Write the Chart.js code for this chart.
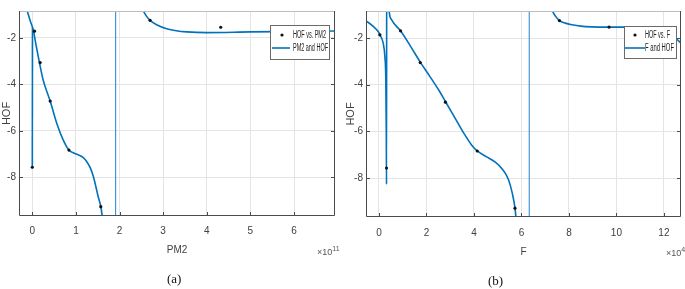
<!DOCTYPE html>
<html>
<head>
<meta charset="utf-8">
<script src="https://cdn.jsdelivr.net/npm/chart.js@4.4.1/dist/chart.umd.min.js"></script>
<style>
    body { margin: 0; width: 685px; height: 289px; background: #fff; position: relative; overflow: hidden; }
    canvas { position: absolute; top: 0; }
    .cap { position: absolute; font-family: 'Liberation Serif', 'DejaVu Serif', serif; font-size: 13px; color: #111; }
    .mult { position: absolute; font-family: 'Liberation Sans Narrow', 'Liberation Sans', sans-serif; font-size: 9px; color: #555; white-space: nowrap; }
    .mult sup { font-size: 7px; }
</style>
</head>
<body>
<canvas id="chart-a" width="340" height="289" style="left:0"></canvas>
<canvas id="chart-b" width="345" height="289" style="left:340px"></canvas>
<div class="cap" style="left:167px; top:271px">(a)</div>
<div class="cap" style="left:488px; top:273px">(b)</div>
<div class="mult" style="left:317px; top:245px">×10<sup>11</sup></div>
<div class="mult" style="left:666px; top:246px">×10<sup>4</sup></div>
<script>
// 刻度
const hofTicks = [-8, -6, -4, -2];
const pm2Ticks = [0, 1, 2, 3, 4, 5, 6];
const fTicks = [0, 2, 4, 6, 8, 10, 12];

// (a) PM2 观测点 (x 单位 1e11)
const pm2ObsX = [0, 0.05, 0.18, 0.41, 0.84, 1.57, 2.70, 4.32];
const pm2ObsY = [-7.57, -1.71, -3.06, -4.72, -6.83, -9.27, -1.24, -1.54];

// (a) 拟合曲线 左支
const pm2FitLeftX = [-0.17, -0.115, -0.05, 0.023, 0.09, 0.16, 0.25, 0.41, 0.56, 0.71, 0.84, 0.95, 1.06, 1.17, 1.25, 1.33, 1.40, 1.51, 1.57, 1.62];
const pm2FitLeftY = [-0.55, -0.85, -1.25, -1.67, -2.35, -3.03, -3.82, -4.72, -5.67, -6.40, -6.83, -6.96, -7.04, -7.16, -7.33, -7.60, -7.97, -8.83, -9.26, -9.90];
// (a) x=0 处的跳变
const pm2JumpX = [0, 0.004];
const pm2JumpY = [-7.57, -1.55];
// (a) 拟合曲线 右支
const pm2FitRightX = [2.50, 2.55, 2.62, 2.70, 2.85, 3.08, 3.30, 3.54, 4.00, 5.00, 6.00, 7.00];
const pm2FitRightY = [-0.60, -0.85, -1.07, -1.24, -1.43, -1.60, -1.69, -1.74, -1.77, -1.74, -1.72, -1.70];
const pm2Asym = 1.91;

// (b) F 观测点 (x 单位 1e4)
const fObsX = [0.04, 0.32, 0.91, 1.74, 2.80, 4.14, 5.73, 7.60, 9.69];
const fObsY = [-1.86, -7.57, -1.69, -3.05, -4.75, -6.84, -9.29, -1.25, -1.53];

// (b) 拟合曲线 左支
const fFitLeftX = [-0.60, -0.51, -0.24, -0.03, 0.04, 0.18, 0.25, 0.29, 0.31, 0.32, 0.33, 0.41, 0.43, 0.53, 0.91, 1.30, 1.74, 2.13, 2.55, 2.80, 3.20, 3.60, 3.90, 4.14, 4.50, 4.90, 5.20, 5.45, 5.62, 5.73, 5.79];
const fFitLeftY = [-1.25, -1.29, -1.50, -1.72, -1.86, -2.22, -2.79, -3.80, -6.00, -8.27, 3.00, -0.30, -0.82, -1.21, -1.69, -2.30, -3.03, -3.62, -4.28, -4.72, -5.42, -6.12, -6.58, -6.84, -7.07, -7.32, -7.62, -8.05, -8.67, -9.29, -9.90];
// (b) 拟合曲线 右支
const fFitRightX = [7.24, 7.30, 7.45, 7.60, 7.85, 8.13, 8.50, 8.97, 9.69, 10.50, 11.30, 11.90, 12.30, 12.72, 12.90];
const fFitRightY = [-0.60, -0.82, -1.08, -1.25, -1.36, -1.43, -1.49, -1.52, -1.53, -1.53, -1.56, -1.65, -1.85, -2.22, -2.45];
const fAsym = 6.33;

const BLUE = '#0072BD';
const tickFont = { family: "'Liberation Sans Narrow', 'Liberation Sans', sans-serif", size: 10 };
const titleFont = { family: "'Liberation Sans', Arial, sans-serif", size: 10 };

function toPoints(xs, ys) {
    return xs.map((x, i) => ({ x: x, y: ys[i] }));
}

// MATLAB 风格的边框、内向刻度和图例
const boxPlugin = {
    id: 'matlabBox',
    afterDraw(chart) {
        const { ctx, chartArea: a, scales } = chart;
        ctx.save();
        ctx.lineWidth = 1;
        ctx.strokeStyle = '#bdbdbd';
        ctx.beginPath();
        ctx.moveTo(a.left, a.top + 0.5);
        ctx.lineTo(a.right, a.top + 0.5);
        ctx.stroke();
        ctx.strokeStyle = '#4a4a4a';
        ctx.beginPath();
        ctx.moveTo(a.left + 0.5, a.top);
        ctx.lineTo(a.left + 0.5, a.bottom - 0.5);
        ctx.lineTo(a.right - 0.5, a.bottom - 0.5);
        ctx.lineTo(a.right - 0.5, a.top);
        scales.x.ticks.forEach(t => {
            const px = Math.round(scales.x.getPixelForValue(t.value)) + 0.5;
            ctx.moveTo(px, a.bottom);
            ctx.lineTo(px, a.bottom - 4);
        });
        scales.y.ticks.forEach(t => {
            const py = Math.round(scales.y.getPixelForValue(t.value)) + 0.5;
            ctx.moveTo(a.left, py);
            ctx.lineTo(a.left + 4, py);
            ctx.moveTo(a.right, py);
            ctx.lineTo(a.right - 4, py);
        });
        ctx.stroke();

        // 图例
        const lg = chart.options.plugins.matlabBox;
        const bx = a.right - lg.rightOffset - lg.width;
        const by = a.top + lg.topOffset;
        ctx.fillStyle = '#fff';
        ctx.fillRect(bx, by, lg.width, lg.height);
        ctx.strokeStyle = '#6a6a6a';
        ctx.strokeRect(bx + 0.5, by + 0.5, lg.width, lg.height);
        ctx.fillStyle = '#111';
        ctx.beginPath();
        ctx.arc(bx + lg.dotX, by + lg.row1, 1.6, 0, Math.PI * 2);
        ctx.fill();
        ctx.strokeStyle = BLUE;
        ctx.lineWidth = 1.6;
        ctx.beginPath();
        ctx.moveTo(bx + lg.lineX0, by + lg.row2);
        ctx.lineTo(bx + lg.lineX1, by + lg.row2);
        ctx.stroke();
        ctx.font = "10px 'Liberation Sans Narrow', 'Liberation Sans', sans-serif";
        ctx.textBaseline = 'middle';
        ctx.fillStyle = '#222';
        ctx.fillText(lg.labels[0], bx + lg.textX, by + lg.row1, lg.textW[0]);
        ctx.fillText(lg.labels[1], bx + lg.textX, by + lg.row2, lg.textW[1]);
        ctx.restore();
    }
};

function createPanel(canvasId, cfg) {
    const canvas = document.getElementById(canvasId);
    const datasets = [
        {
            label: cfg.legend[0],
            data: toPoints(cfg.obsX, cfg.obsY),
            showLine: false,
            pointRadius: 1.6,
            pointBackgroundColor: '#111',
            pointBorderWidth: 0
        }
    ];
    cfg.fits.forEach(f => {
        datasets.push({
            label: cfg.legend[1],
            data: toPoints(f[0], f[1]),
            borderColor: BLUE,
            borderWidth: 1.6,
            pointRadius: 0,
            cubicInterpolationMode: 'monotone'
        });
    });
    // 垂直渐近线
    datasets.push({
        data: [{ x: cfg.asym, y: -20 }, { x: cfg.asym, y: 20 }],
        borderColor: '#3a8cd0',
        borderWidth: 1.1,
        pointRadius: 0
    });

    return new Chart(canvas, {
        type: 'line',
        data: { datasets: datasets },
        plugins: [boxPlugin],
        options: {
            responsive: false,
            animation: false,
            devicePixelRatio: 1,
            layout: { padding: { top: 11, right: cfg.padRight, left: 0, bottom: 0 } },
            plugins: {
                legend: { display: false },
                tooltip: { enabled: false },
                matlabBox: cfg.legendBox
            },
            scales: {
                x: {
                    type: 'linear',
                    min: cfg.xMin,
                    max: cfg.xMax,
                    afterBuildTicks: s => { s.ticks = cfg.xTicks.map(v => ({ value: v })); },
                    afterFit: s => { s.height = cfg.xHeight; },
                    grid: { color: '#e4e4e4', drawTicks: false },
                    border: { display: false },
                    ticks: { font: tickFont, color: '#404040', padding: cfg.xTickPad, maxRotation: 0 },
                    title: { display: true, text: cfg.xTitle, font: titleFont, color: '#404040', padding: { top: 0, bottom: cfg.xTitlePad } }
                },
                y: {
                    type: 'linear',
                    min: -9.67,
                    max: -0.84,
                    afterBuildTicks: s => { s.ticks = hofTicks.map(v => ({ value: v })); },
                    afterFit: s => { s.width = cfg.yWidth; },
                    grid: { color: '#e4e4e4', drawTicks: false },
                    border: { display: false },
                    ticks: { font: tickFont, color: '#404040', padding: 3 },
                    title: { display: true, text: 'HOF', font: { family: titleFont.family, size: 11 }, color: '#404040', padding: { top: cfg.yTitlePad, bottom: 0 } }
                }
            }
        }
    });
}

createPanel('chart-a', {
    obsX: pm2ObsX, obsY: pm2ObsY,
    fits: [[pm2FitLeftX, pm2FitLeftY], [pm2JumpX, pm2JumpY], [pm2FitRightX, pm2FitRightY]],
    asym: pm2Asym,
    xMin: -0.305, xMax: 6.94, xTicks: pm2Ticks, xTitle: 'PM2',
    padRight: 5, yWidth: 19, yTitlePad: 0, xHeight: 73, xTickPad: 9, xTitlePad: 33,
    legend: ['HOF vs. PM2', 'PM2 and HOF'],
    legendBox: { rightOffset: 6, topOffset: 14, width: 59, height: 34, dotX: 12, lineX0: 2, lineX1: 20, row1: 10, row2: 23, textX: 23, textW: [33, 35], labels: ['HOF vs. PM2', 'PM2 and HOF'] }
});

createPanel('chart-b', {
    obsX: fObsX, obsY: fObsY,
    fits: [[fFitLeftX, fFitLeftY], [fFitRightX, fFitRightY]],
    asym: fAsym,
    xMin: -0.544, xMax: 12.72, xTicks: fTicks, xTitle: 'F',
    padRight: 2, yWidth: 26, yTitlePad: 4, xHeight: 72, xTickPad: 10, xTitlePad: 31,
    legend: ['HOF vs. F', 'F and HOF'],
    legendBox: { rightOffset: 5, topOffset: 15, width: 52, height: 32, dotX: 11, lineX0: 1, lineX1: 21, row1: 9, row2: 22, textX: 21, textW: [25, 29], labels: ['HOF vs. F', 'F and HOF'] }
});
</script>
</body>
</html>
